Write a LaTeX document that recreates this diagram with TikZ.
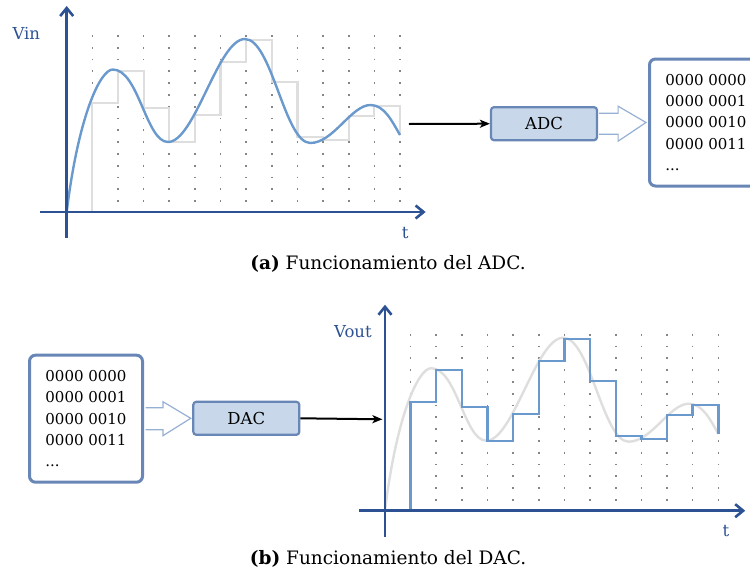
\documentclass[tikz,border=0pt]{standalone}
\usepackage{fontspec}
\setmainfont{DejaVu Serif}
\definecolor{ejeazul}{RGB}{45,82,148}
\definecolor{senalazul}{RGB}{106,153,206}
\definecolor{grisclaro}{RGB}{222,222,222}
\definecolor{cajafondo}{RGB}{200,216,234}
\definecolor{cajaborde}{RGB}{104,134,182}
\definecolor{flechaborde}{RGB}{150,176,212}
\usepackage{tikz}
\usetikzlibrary{arrows.meta, positioning, calc}

% curva y escalera en unidades de la rejilla
\newcommand{\curva}{(0,0) .. controls (0.45,95) and (1.3,142.5) .. (1.8,142.5)
  .. controls (2.8,142.5) and (3.1,70) .. (3.95,70)
  .. controls (5,70) and (5.9,173) .. (6.95,173)
  .. controls (8,173) and (8.5,69) .. (9.5,69)
  .. controls (10.4,69) and (11.1,107) .. (11.85,107)
  .. controls (12.4,107) and (12.7,90) .. (13,77)}
\newcommand{\escalera}{(1,0) |- (2,109) |- (3,141) |- (4,104) |- (5,70) |- (6,97) |- (7,150) |- (8,172) |- (9,130) |- (10,75) |- (11,72) |- (12,96) |- (13,106) -- (13,77)}

\tikzset{
  eje/.style={draw=ejeazul, line width=2.6pt, -{Straight Barb[length=8pt, width=13pt]}},
  rejilla/.style={draw=gray!95, line width=1.6pt, dash pattern=on 1.8pt off 10pt},
  conv/.style={draw=cajaborde, fill=cajafondo, line width=2.2pt, rounded corners=3pt, minimum width=106pt, minimum height=33pt, font=\fontsize{16.5}{20}\selectfont},
  bits/.style={draw=cajaborde, line width=3pt, rounded corners=6pt, minimum width=113pt, minimum height=127pt, align=left, font=\fontsize{15}{21.3}\selectfont},
  hueca/.style={draw=flechaborde, line width=1.2pt, fill=white},
  flecha/.style={draw=black, line width=2pt, -{Stealth[length=10pt, width=8pt, inset=2.5pt]}},
  rotulo/.style={text=ejeazul, font=\fontsize{16.5}{20}\selectfont}
}

\begin{document}
\begin{tikzpicture}[x=1pt, y=-1pt]
  \useasboundingbox (0,0) rectangle (750,573);
  \clip (0,0) rectangle (750,573);

  % (a) ADC
  \coordinate (oa) at (66.7,212);
  \begin{scope}[shift={(oa)}, x=25.64pt, y=1pt]
    \foreach \k in {1,...,13}
      \draw[rejilla] (\k,177) -- (\k,0);
    \draw[grisclaro, line width=2.2pt] \escalera;
    \draw[senalazul, line width=2.4pt] \curva;
    \draw[eje] (0,-26) -- (0,206);
    \draw[eje] (-1.04,0) -- (14,0);
    \node[rotulo, anchor=east] (vin) at (-0.9,179) {Vin};
    \node[rotulo] (ta) at (13.2,-21) {t};
    \coordinate (salida) at (13.35,88);
  \end{scope}

  \node[conv] (adc) at (544,123.7) {ADC};
  \node[bits] (bitsa) at (706,122.5) {0000 0000\\0000 0001\\0000 0010\\0000 0011\\...};
  \draw[flecha] (salida) -- (adc.west);
  \draw[hueca] ($(adc.east)+(1,-10.5)$) -- ++(19,0) -- ++(0,-7) -- ($(bitsa.west)+(-2,0)$) -- ($(adc.east)+(20,17.5)$) -- ++(0,-7) -- ++(-19,0);

  \node[font=\fontsize{18.5}{20}\selectfont] (capa) at (388,264) {\textbf{(a)} Funcionamiento del ADC.};

  % (b) DAC
  \node[bits] (bitsb) at (86,418.7) {0000 0000\\0000 0001\\0000 0010\\0000 0011\\...};
  \node[conv] (dac) at (246.3,418.3) {DAC};
  \draw[hueca] ($(bitsb.east)+(1.5,-11)$) -- ++(17.5,0) -- ++(0,-6) -- ($(dac.west)+(-1.5,0)$) -- ($(bitsb.east)+(19,17)$) -- ++(0,-6) -- ++(-17.5,0);

  \coordinate (ob) at (385,510.7);
  \begin{scope}[shift={(ob)}, x=25.64pt, y=1pt]
    \foreach \k in {1,...,13}
      \draw[rejilla] (\k,177) -- (\k,0);
    \draw[grisclaro, line width=2.4pt] \curva;
    \draw[senalazul, line width=2.4pt] \escalera;
    \draw[eje] (0,-26) -- (0,206);
    \draw[eje] (-1.02,0) -- (14.05,0);
    \node[rotulo, anchor=east] (vout) at (-0.38,178.7) {Vout};
    \node[rotulo] (tb) at (13.3,-20.3) {t};
    \coordinate (entrada) at (-0.1,91.4);
  \end{scope}
  \draw[flecha] (dac.east) -- (entrada);

  \node[font=\fontsize{18.5}{20}\selectfont] (capb) at (388,559) {\textbf{(b)} Funcionamiento del DAC.};
\end{tikzpicture}
\end{document}
